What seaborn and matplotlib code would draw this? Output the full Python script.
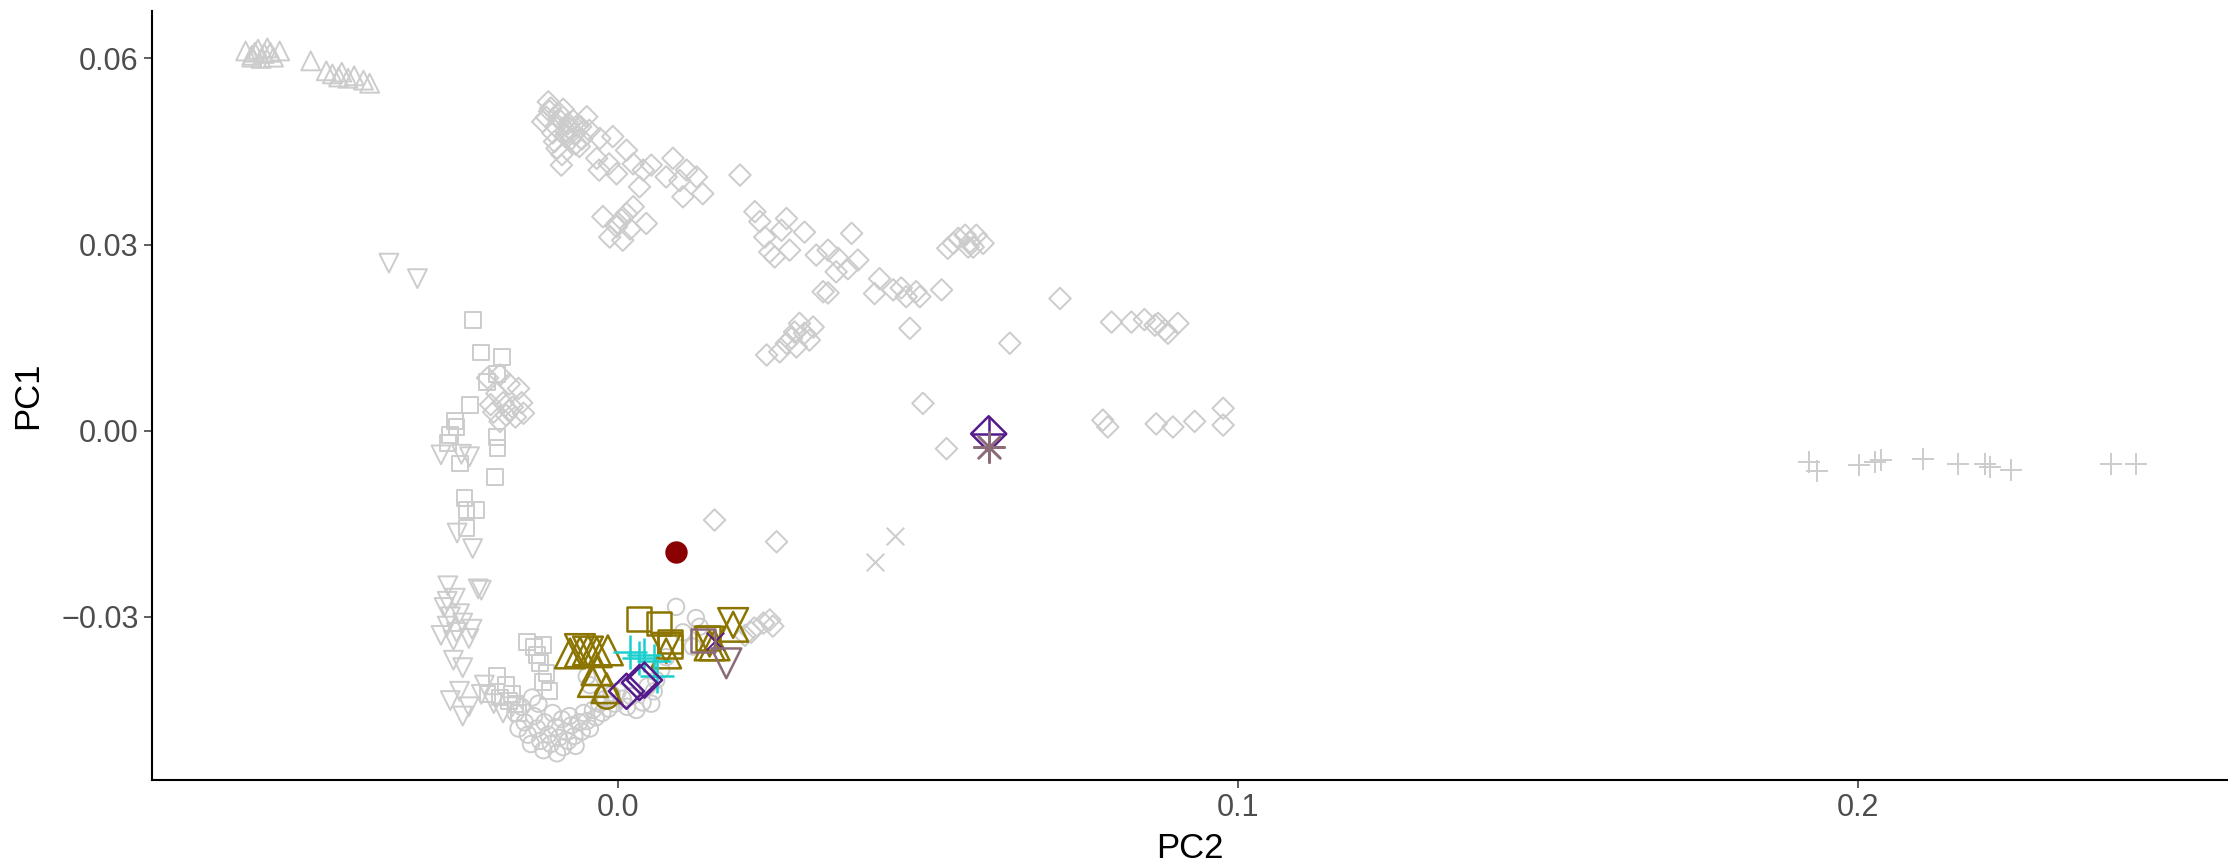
import numpy as np
import pandas as pd
import matplotlib
matplotlib.use("Agg")
import matplotlib.pyplot as plt
from matplotlib.markers import MarkerStyle
import seaborn as sns

# ---------------- data (PC2, PC1) ----------------
gray_up_pc2 = [-0.0600, -0.0590, -0.0580, -0.0570, -0.0560, -0.0555, -0.0575, -0.0585, -0.0565, -0.0545, -0.0590,
               -0.0495, -0.0470, -0.0460, -0.0445, -0.0450, -0.0425, -0.0410, -0.0435, -0.0400]
gray_up_pc1 = [0.0612, 0.0605, 0.0615, 0.0608, 0.0610, 0.0602, 0.0600, 0.0610, 0.0617, 0.0612, 0.0602,
               0.0596, 0.0580, 0.0575, 0.0578, 0.0570, 0.0572, 0.0565, 0.0568, 0.0560]

gray_down_pc2 = [-0.0369, -0.0323, -0.0285, -0.0239, -0.0252, -0.0259, -0.0234, -0.0274, -0.0220, -0.0225,
                 -0.0280, -0.0270, -0.0275, -0.0260, -0.0250, -0.0285, -0.0240, -0.0265, -0.0255, -0.0235, -0.0275, -0.0262,
                 -0.0265, -0.0250, -0.0270, -0.0255, -0.0240, -0.0220, -0.0200, -0.0185, -0.0215, -0.0170, -0.0250]
gray_down_pc1 = [0.0270, 0.0245, -0.0039, -0.0042, -0.0038, -0.0165, -0.0190, -0.0250, -0.0257, -0.0255,
                 -0.0285, -0.0300, -0.0315, -0.0325, -0.0310, -0.0330, -0.0335, -0.0338, -0.0295, -0.0320, -0.0275, -0.0270,
                 -0.0370, -0.0382, -0.0435, -0.0420, -0.0445, -0.0425, -0.0440, -0.0455, -0.0410, -0.0445, -0.0460]

gray_square_pc2 = [-0.0234, -0.0220, -0.0186, -0.0195, -0.0211, -0.0238, -0.0263, -0.0260, -0.0271, -0.0274,
                   -0.0255, -0.0195, -0.0194, -0.0198, -0.0247, -0.0244, -0.0228, -0.0244,
                   -0.0147, -0.0135, -0.0120, -0.0130, -0.0125, -0.0115, -0.0120, -0.0110,
                   -0.0195, -0.0180, -0.0170, -0.0165, -0.0160, -0.0175, -0.0190, -0.0210]
gray_square_pc1 = [0.0179, 0.0126, 0.0119, 0.0092, 0.0078, 0.0041, 0.0016, 0.0006, -0.0007, -0.0020,
                   -0.0053, -0.0010, -0.0028, -0.0075, -0.0109, -0.0128, -0.0128, -0.0157,
                   -0.0340, -0.0348, -0.0345, -0.0362, -0.0375, -0.0390, -0.0405, -0.0420,
                   -0.0395, -0.0410, -0.0425, -0.0440, -0.0455, -0.0435, -0.0430, -0.0425]

gray_diamond_pc2 = [
    # upper dense cluster
    -0.0112, -0.0121, -0.0091, -0.0102, -0.0072, -0.0050, -0.0046, -0.0062, -0.0083, -0.0094,
    -0.0110, -0.0100, -0.0085, -0.0075, -0.0065, -0.0105, -0.0095, -0.0080, -0.0070, -0.0058,
    -0.0115, -0.0108, -0.0088, -0.0078, -0.0068, -0.0060, -0.0098, -0.0090,
    # mid cluster
    -0.0029, -0.0008, 0.0014, -0.0034, -0.0002, 0.0025, 0.0041, 0.0054, 0.0035, -0.0030, -0.0014,
    0.0089, 0.0078, 0.0111, 0.0127, 0.0137, 0.0105, 0.0100, 0.0197,
    # lower cluster
    -0.0024, -0.0002, 0.0014, 0.0025, 0.0046, -0.0013, 0.0008, 0.0006, 0.0000, 0.0020,
    # middle scattered
    0.0221, 0.0229, 0.0272, 0.0264, 0.0237, 0.0301, 0.0245, 0.0253, 0.0277, 0.0377, 0.0320, 0.0339,
    0.0355, 0.0387, 0.0352, 0.0371, 0.0331, 0.0339, 0.0422, 0.0414, 0.0444, 0.0457, 0.0465, 0.0481,
    0.0487, 0.0522, 0.0471, 0.0713, 0.0632, 0.0492,
    0.0532, 0.0541, 0.0549, 0.0560, 0.0568, 0.0573, 0.0578, 0.0589, 0.0565,
    0.0240, 0.0261, 0.0272, 0.0280, 0.0288, 0.0293, 0.0301, 0.0309, 0.0315, 0.0285,
    0.0796, 0.0828, 0.0849, 0.0871, 0.0882, 0.0887, 0.0903, 0.0866,
    0.0782, 0.0790, 0.0868, 0.0895, 0.0930, 0.0976, 0.0976,
    0.0156, 0.0256, 0.0530,
    # left arc cluster
    -0.0210, -0.0190, -0.0175, -0.0160, -0.0195, -0.0185, -0.0170, -0.0155, -0.0200, -0.0180,
    -0.0165, -0.0152, -0.0190, -0.0175, -0.0205,
    # near coloured points
    0.0220, 0.0235, 0.0245, 0.0250, 0.0215, 0.0205]
gray_diamond_pc1 = [
    0.0530, 0.0498, 0.0428, 0.0466, 0.0500, 0.0506, 0.0484, 0.0458, 0.0484, 0.0511,
    0.0515, 0.0490, 0.0475, 0.0470, 0.0492, 0.0480, 0.0502, 0.0495, 0.0478, 0.0470,
    0.0505, 0.0520, 0.0518, 0.0488, 0.0462, 0.0490, 0.0455, 0.0445,
    0.0471, 0.0474, 0.0452, 0.0439, 0.0414, 0.0430, 0.0420, 0.0428, 0.0393, 0.0420, 0.0430,
    0.0439, 0.0409, 0.0420, 0.0409, 0.0382, 0.0377, 0.0403, 0.0412,
    0.0345, 0.0329, 0.0350, 0.0361, 0.0334, 0.0312, 0.0307, 0.0340, 0.0335, 0.0325,
    0.0353, 0.0337, 0.0342, 0.0323, 0.0312, 0.0320, 0.0288, 0.0280, 0.0291, 0.0318, 0.0283, 0.0291,
    0.0278, 0.0275, 0.0256, 0.0261, 0.0224, 0.0222, 0.0245, 0.0221, 0.0227, 0.0230, 0.0216, 0.0224,
    0.0216, 0.0227, 0.0165, 0.0213, 0.0141, 0.0044,
    0.0294, 0.0302, 0.0310, 0.0315, 0.0304, 0.0296, 0.0315, 0.0302, 0.0296,
    0.0122, 0.0127, 0.0141, 0.0149, 0.0135, 0.0173, 0.0157, 0.0146, 0.0167, 0.0159,
    0.0175, 0.0175, 0.0179, 0.0173, 0.0162, 0.0157, 0.0173, 0.0170,
    0.0017, 0.0006, 0.0011, 0.0006, 0.0015, 0.0036, 0.0009,
    -0.0144, -0.0179, -0.0029,
    0.0085, 0.0090, 0.0075, 0.0068, 0.0060, 0.0045, 0.0038, 0.0045, 0.0030, 0.0025,
    0.0022, 0.0028, 0.0015, 0.0032, 0.0042,
    -0.0318, -0.0310, -0.0305, -0.0315, -0.0325, -0.0330]

gray_circle_pc2 = [-0.0155, -0.0150, -0.0145, -0.0140, -0.0135, -0.0130, -0.0125, -0.0120, -0.0118, -0.0112,
                   -0.0108, -0.0105, -0.0100, -0.0098, -0.0095, -0.0090, -0.0088, -0.0085, -0.0080, -0.0078,
                   -0.0075, -0.0070, -0.0068, -0.0062, -0.0058, -0.0055, -0.0050, -0.0045, -0.0040, -0.0035,
                   -0.0030, -0.0025, -0.0020, -0.0015, -0.0010, -0.0005, 0.0000, 0.0008, 0.0015, 0.0022,
                   0.0030, 0.0040, 0.0054, 0.0062, 0.0058, 0.0048, -0.0050, -0.0045, 0.0094, 0.0126,
                   0.0132, 0.0121, 0.0105, 0.0078, 0.0070, -0.0138, -0.0128, -0.0165, -0.0160]
gray_circle_pc1 = [-0.0445, -0.0470, -0.0490, -0.0505, -0.0460, -0.0480, -0.0500, -0.0515, -0.0470, -0.0490,
                   -0.0505, -0.0455, -0.0478, -0.0520, -0.0495, -0.0465, -0.0510, -0.0485, -0.0500, -0.0460,
                   -0.0475, -0.0492, -0.0508, -0.0470, -0.0485, -0.0455, -0.0468, -0.0480, -0.0450, -0.0462,
                   -0.0440, -0.0455, -0.0432, -0.0448, -0.0425, -0.0440, -0.0420, -0.0432, -0.0445, -0.0428,
                   -0.0450, -0.0438, -0.0440, -0.0402, -0.0420, -0.0412, -0.0396, -0.0410, -0.0284, -0.0302,
                   -0.0316, -0.0348, -0.0325, -0.0365, -0.0385, -0.0430, -0.0440, -0.0455, -0.0480]

gray_plus_pc2 = [0.1921, 0.1933, 0.2001, 0.2027, 0.2037, 0.2104, 0.2160, 0.2204, 0.2212, 0.2246, 0.2408, 0.2447]
gray_plus_pc1 = [-0.0051, -0.0065, -0.0056, -0.0051, -0.0047, -0.0045, -0.0053, -0.0053, -0.0058, -0.0064, -0.0053, -0.0053]

gray_x_pc2 = [0.0447, 0.0414]
gray_x_pc1 = [-0.0170, -0.0211]

# highlighted samples
olive_up_pc2 = [-0.0077, -0.0061, -0.0048, -0.0034, -0.0016, -0.0034, -0.0040, -0.0018, 0.0078, 0.0186, 0.0148, 0.0156]
olive_up_pc1 = [-0.0359, -0.0357, -0.0354, -0.0357, -0.0354, -0.0386, -0.0405, -0.0415, -0.0359, -0.0316, -0.0346, -0.0346]
olive_down_pc2 = [-0.0061, -0.0048, 0.0078, 0.0186, 0.0148]
olive_down_pc1 = [-0.0352, -0.0356, -0.0350, -0.0310, -0.0340]
olive_square_pc2 = [0.0034, 0.0066, 0.0084, 0.0084, 0.0145]
olive_square_pc1 = [-0.0303, -0.0311, -0.0340, -0.0348, -0.0334]
olive_circle_pc2 = [-0.0018]
olive_circle_pc1 = [-0.0429]

cyan_plus_pc2 = [0.0020, 0.0042, 0.0058, 0.0064, 0.0035]
cyan_plus_pc1 = [-0.0357, -0.0361, -0.0372, -0.0395, -0.0366]

purple_diamond_pc2 = [0.0014, 0.0035, 0.0043]
purple_diamond_pc1 = [-0.0420, -0.0406, -0.0402]
purple_x_pc2 = [0.0156]
purple_x_pc1 = [-0.0339]
purple_dplus_pc2 = [0.0598]
purple_dplus_pc1 = [-0.0005]

mauve_square_pc2 = [0.0137]
mauve_square_pc1 = [-0.0338]
mauve_down_pc2 = [0.0175]
mauve_down_pc1 = [-0.0375]
mauve_star_pc2 = [0.0598]
mauve_star_pc1 = [-0.0026]

red_pc2 = [0.0094]
red_pc1 = [-0.0195]

# ---------------- style ----------------
GRAY = "#CCCCCC"
OLIVE = "#8B7500"
CYAN = "#1CCFCF"
PURPLE = "#551A8B"
MAUVE = "#8B6B78"
DARKRED = "#8B0000"

sns.set_theme(style="white")
plt.rcParams["font.family"] = ["Liberation Sans", "DejaVu Sans"]

fig = plt.figure(figsize=(22.28, 8.66), dpi=100)
ax = fig.add_axes([0.0682, 0.0993, 0.9318, 0.8877])


def hollow(m):
    return MarkerStyle(m, fillstyle="none")


def pts(xs, ys, marker, color, s, lw):
    sns.scatterplot(x=xs, y=ys, marker=marker, color=color, s=s, linewidth=lw, ax=ax, legend=False, zorder=2)


GLW = 1.4
CLW = 1.8
pts(gray_up_pc2, gray_up_pc1, hollow("^"), GRAY, 185, GLW)
pts(gray_down_pc2, gray_down_pc1, hollow("v"), GRAY, 185, GLW)
pts(gray_square_pc2, gray_square_pc1, hollow("s"), GRAY, 130, GLW)
pts(gray_diamond_pc2, gray_diamond_pc1, hollow("D"), GRAY, 120, GLW)
pts(gray_circle_pc2, gray_circle_pc1, hollow("o"), GRAY, 140, GLW)
pts(gray_plus_pc2, gray_plus_pc1, "+", GRAY, 270, GLW)
pts(gray_x_pc2, gray_x_pc1, "x", GRAY, 160, GLW)

pts(olive_up_pc2, olive_up_pc1, hollow("^"), OLIVE, 460, CLW)
pts(olive_down_pc2, olive_down_pc1, hollow("v"), OLIVE, 460, CLW)
pts(olive_square_pc2, olive_square_pc1, hollow("s"), OLIVE, 290, CLW)
pts(olive_circle_pc2, olive_circle_pc1, hollow("o"), OLIVE, 290, CLW)
pts(cyan_plus_pc2, cyan_plus_pc1, "+", CYAN, 600, CLW)
pts(purple_diamond_pc2, purple_diamond_pc1, hollow("D"), PURPLE, 320, CLW)
pts(purple_x_pc2, purple_x_pc1, "x", PURPLE, 160, 1.4)
pts(mauve_square_pc2, mauve_square_pc1, hollow("s"), MAUVE, 290, CLW)
pts(mauve_down_pc2, mauve_down_pc1, hollow("v"), MAUVE, 460, CLW)
pts(purple_dplus_pc2, purple_dplus_pc1, hollow("D"), PURPLE, 320, CLW)
pts(purple_dplus_pc2, purple_dplus_pc1, "+", PURPLE, 620, CLW)
pts(mauve_star_pc2, mauve_star_pc1, (8, 2, 0), MAUVE, 480, CLW)
pts(red_pc2, red_pc1, "o", DARKRED, 260, 0)

ax.set_xlim(-0.0751, 0.2596)
ax.set_ylim(-0.0563, 0.0676)
ax.set_xticks([0.0, 0.1, 0.2])
ax.set_xticklabels(["0.0", "0.1", "0.2"])
ax.set_yticks([-0.03, 0.0, 0.03, 0.06])
ax.set_yticklabels(["\u22120.03", "0.00", "0.03", "0.06"])
ax.tick_params(axis="both", which="both", length=6, width=1.1, color="#333333",
               labelsize=22, labelcolor="#4D4D4D", direction="out", bottom=True, left=True)
ax.set_xlabel("PC2", fontsize=25, color="black", labelpad=6)
ax.set_ylabel("PC1", fontsize=25, color="black", labelpad=12)
for side in ["top", "right"]:
    ax.spines[side].set_visible(False)
for side in ["left", "bottom"]:
    ax.spines[side].set_color("black")
    ax.spines[side].set_linewidth(1.5)
ax.grid(False)
ax.set_facecolor("white")

fig.savefig("out.png", dpi=100, facecolor="white")
